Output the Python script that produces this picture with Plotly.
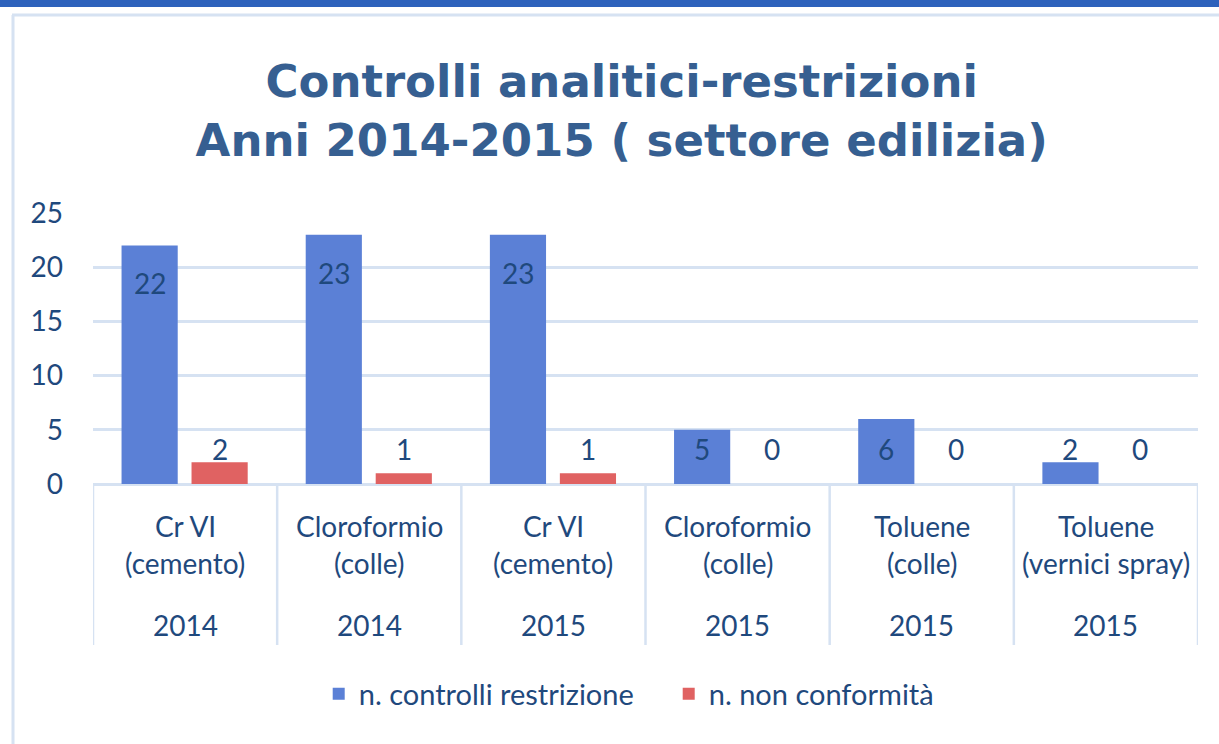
import plotly.graph_objects as go

# ---- data ----
categories = ["Cr VI\n(cemento)", "Cloroformio\n(colle)", "Cr VI\n(cemento)",
              "Cloroformio\n(colle)", "Toluene\n(colle)", "Toluene\n(vernici spray)"]
years = ["2014", "2014", "2015", "2015", "2015", "2015"]
controlli = [22, 23, 23, 5, 6, 2]
non_conformita = [2, 1, 1, 0, 0, 0]
y_ticks = [0, 5, 10, 15, 20, 25]

series_names = ["n. controlli restrizione", "n. non conformità"]

TXT = "#1F497D"
GRID = "#D6E2F2"
FONT = "Lato"
FS = 28
BLUE = "#5B80D6"
RED = "#E06262"

W, H = 1219, 744
L, R, T, B = 93, 21, 213, 260
ph = H - T - B
pw = W - L - R

x_idx = list(range(len(categories)))
bw = 0.305
off_b = -0.345
off_r = 0.035

fig = go.Figure()
fig.add_trace(go.Bar(x=x_idx, y=controlli, name=series_names[0], width=bw, offset=off_b,
                     marker=dict(color=BLUE, line=dict(width=0))))
fig.add_trace(go.Bar(x=x_idx, y=non_conformita, name=series_names[1], width=bw, offset=off_r,
                     marker=dict(color=RED, line=dict(width=0))))

annotations = []
# data labels
for i, v in enumerate(controlli):
    annotations.append(dict(x=i + off_b + bw / 2, y=max(v - 3.5, 3.2), xref="x", yref="y",
                            text=str(v), showarrow=False, yanchor="middle",
                            font=dict(family=FONT, size=FS, color=TXT)))
for i, v in enumerate(non_conformita):
    annotations.append(dict(x=i + off_r + bw / 2, y=max(v + 1.1, 3.2), xref="x", yref="y",
                            text=str(v), showarrow=False, yanchor="middle",
                            font=dict(family=FONT, size=FS, color=TXT)))
# category / year table labels
for i, (c, yr) in enumerate(zip(categories, years)):
    lines = c.split("\n")
    for k, ln in enumerate(lines):
        annotations.append(dict(x=i, y=0, xref="x", yref="paper", text=ln, showarrow=False,
                                yanchor="middle", yshift=-(42 + 37 * k),
                                font=dict(family=FONT, size=FS, color=TXT)))
    annotations.append(dict(x=i, y=0, xref="x", yref="paper", text=yr, showarrow=False,
                            yanchor="middle", yshift=-141,
                            font=dict(family=FONT, size=FS, color=TXT)))

shapes = []
# table dividers
for i in range(len(categories) + 1):
    shapes.append(dict(type="line", xref="x", yref="paper", x0=i - 0.5, x1=i - 0.5,
                       y0=0, y1=-(645 - 484) / ph, line=dict(color=GRID, width=2.5)))
# frame
def px_x(p):
    return (p - L) / pw
def px_y(p):
    return (H - B - p) / ph
shapes.append(dict(type="rect", xref="paper", yref="paper", x0=px_x(-5), x1=px_x(W + 5),
                   y0=px_y(7), y1=px_y(-5), fillcolor="#2E62BC", line=dict(width=0), layer="below"))
shapes.append(dict(type="line", xref="paper", yref="paper", x0=px_x(12), x1=px_x(W + 5),
                   y0=px_y(15), y1=px_y(15), line=dict(color=GRID, width=3)))
shapes.append(dict(type="line", xref="paper", yref="paper", x0=px_x(13), x1=px_x(13),
                   y0=px_y(15), y1=px_y(H + 5), line=dict(color=GRID, width=3)))

fig.update_layout(
    width=W, height=H,
    margin=dict(l=L, r=R, t=T, b=B, pad=0),
    paper_bgcolor="white", plot_bgcolor="white",
    title=dict(text="Controlli analitici-restrizioni<br>Anni 2014-2015 ( settore edilizia)",
               x=0.51, xanchor="center", xref="container",
               y=1 - 97 / H, yanchor="middle", yref="container",
               font=dict(family="DejaVu Sans", size=45, color="#365F91", weight="bold")),
    barmode="group",
    showlegend=True,
    legend=dict(orientation="h", x=0.521, xanchor="center", y=px_y(694), yanchor="middle",
                font=dict(family=FONT, size=29, color=TXT), itemsizing="constant",
                entrywidth=305, entrywidthmode="pixels",
                traceorder="normal"),
    xaxis=dict(range=[-0.5, len(categories) - 0.5], showticklabels=False, showgrid=False,
               zeroline=False, showline=False, fixedrange=True),
    yaxis=dict(range=[0, 25], tickvals=y_ticks, showgrid=True, gridcolor=GRID, gridwidth=2.5,
               zeroline=True, zerolinecolor=GRID, zerolinewidth=2.5, showline=False,
               ticks="", ticklabelstandoff=29, fixedrange=True,
               tickfont=dict(family=FONT, size=FS, color=TXT)),
    annotations=annotations,
    shapes=shapes,
)

fig.write_html("out.html", config={"displayModeBar": False},
               post_script="document.body.style.margin='0';")
